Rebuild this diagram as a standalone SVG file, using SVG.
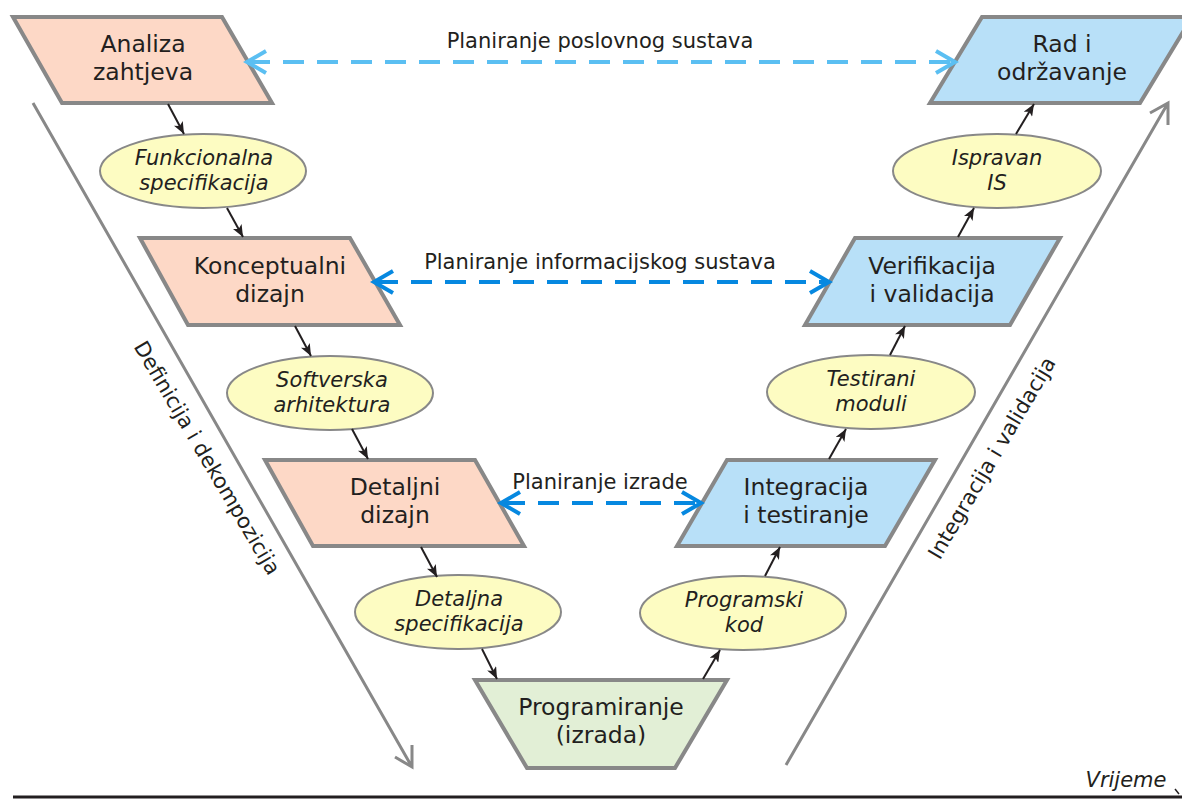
<svg xmlns="http://www.w3.org/2000/svg" width="1182" height="799" viewBox="0 0 1182 799">
<style>
  .node { stroke:#888888; stroke-width:4; stroke-linejoin:miter; }
  .req { fill:#fdd8c6; }
  .ver { fill:#b8e0f8; }
  .prog { fill:#e2efd6; }
  .ell { fill:#fdfcc2; stroke:#888888; stroke-width:2; }
  .nt { font-family:"DejaVu Sans", Verdana, sans-serif; font-size:23.5px; fill:#231f20; text-anchor:middle; }
  .et { font-family:"DejaVu Sans", Verdana, sans-serif; font-size:21px; font-style:italic; fill:#231f20; text-anchor:middle; }
  .lt { font-family:"DejaVu Sans", Verdana, sans-serif; font-size:21px; fill:#231f20; text-anchor:middle; }
  .flow { stroke:#231f20; stroke-width:2; fill:none; marker-end:url(#ah); }
  .dash1 { stroke:#5bbff2; stroke-width:4; fill:none; stroke-dasharray:21 13; }
  .dash2 { stroke:#0688e0; stroke-width:4; fill:none; stroke-dasharray:21 13; }
  .head1 { stroke:#5bbff2; stroke-width:4; fill:none; }
  .head2 { stroke:#0688e0; stroke-width:4; fill:none; }
  .big { stroke:#888888; stroke-width:3; fill:none; }
</style>
<defs>
  <marker id="ah" viewBox="0 0 12 10" refX="12" refY="5" markerWidth="12" markerHeight="10" markerUnits="userSpaceOnUse" orient="auto">
    <path d="M0,0 L12,5 L0,10 L3,5 Z" fill="#231f20"/>
  </marker>
</defs>
<rect x="0" y="0" width="1182" height="799" fill="#ffffff"/>

<!-- big gray phase arrows -->
<g id="phase-arrows">
  <path class="big" d="M33,103 L412,767 M412,745 L412,767 L395,757"/>
  <path class="big" d="M786,765 L1168,103 M1168,125 L1168,103 L1150,113"/>
  <text class="lt" transform="translate(207,458) rotate(59.5)" x="0" y="7">Definicija i dekompozicija</text>
  <text class="lt" transform="translate(992,458) rotate(-59.5)" x="0" y="7">Integracija i validacija</text>
</g>

<!-- time axis -->
<g id="time-axis">
  <line x1="13" y1="797" x2="1182" y2="797" stroke="#231f20" stroke-width="3"/>
  <path d="M1175,789 L1179,794" stroke="#231f20" stroke-width="1.5" fill="none"/>
  <text class="et" x="1126" y="787">Vrijeme</text>
</g>

<g id="n-analiza">
  <polygon class="node req" points="13,17 222,17 272,103 62,103"/>
  <text class="nt" x="143" y="52">Analiza</text>
  <text class="nt" x="143" y="80">zahtjeva</text>
</g>
<g id="n-konceptualni">
  <polygon class="node req" points="140,238 350,238 400,325 188,325"/>
  <text class="nt" x="270" y="274">Konceptualni</text>
  <text class="nt" x="270" y="302">dizajn</text>
</g>
<g id="n-detaljni">
  <polygon class="node req" points="265,460 475,460 524,546 313,546"/>
  <text class="nt" x="395" y="495">Detaljni</text>
  <text class="nt" x="395" y="523">dizajn</text>
</g>
<g id="n-programiranje">
  <polygon class="node prog" points="475,680 727,680 675,768 527,768"/>
  <text class="nt" x="601" y="715">Programiranje</text>
  <text class="nt" x="601" y="743">(izrada)</text>
</g>
<g id="n-integracija">
  <polygon class="node ver" points="727,460 935,460 885,546 677,546"/>
  <text class="nt" x="806" y="495">Integracija</text>
  <text class="nt" x="806" y="523">i testiranje</text>
</g>
<g id="n-verifikacija">
  <polygon class="node ver" points="855,238 1060,238 1010,325 805,325"/>
  <text class="nt" x="932" y="274">Verifikacija</text>
  <text class="nt" x="932" y="302">i validacija</text>
</g>
<g id="n-rad">
  <polygon class="node ver" points="982,17 1192,17 1140,103 930,103"/>
  <text class="nt" x="1062" y="52">Rad i</text>
  <text class="nt" x="1062" y="80">održavanje</text>
</g>

<g id="e-funkcionalna">
  <ellipse class="ell" cx="203" cy="171" rx="103" ry="37"/>
  <text class="et" x="204" y="165">Funkcionalna</text>
  <text class="et" x="204" y="190">specifikacija</text>
</g>
<g id="e-softverska">
  <ellipse class="ell" cx="330" cy="393" rx="103" ry="37"/>
  <text class="et" x="332" y="387">Softverska</text>
  <text class="et" x="332" y="412">arhitektura</text>
</g>
<g id="e-detaljna">
  <ellipse class="ell" cx="458" cy="612" rx="103" ry="37"/>
  <text class="et" x="459" y="606">Detaljna</text>
  <text class="et" x="459" y="631">specifikacija</text>
</g>
<g id="e-programski">
  <ellipse class="ell" cx="743" cy="613" rx="103" ry="37"/>
  <text class="et" x="744" y="607">Programski</text>
  <text class="et" x="744" y="632">kod</text>
</g>
<g id="e-testirani">
  <ellipse class="ell" cx="871" cy="392" rx="104" ry="37"/>
  <text class="et" x="871" y="386">Testirani</text>
  <text class="et" x="871" y="411">moduli</text>
</g>
<g id="e-ispravan">
  <ellipse class="ell" cx="997" cy="171" rx="104" ry="37"/>
  <text class="et" x="997" y="165">Ispravan</text>
  <text class="et" x="997" y="190">IS</text>
</g>

<g id="connectors">
  <line class="flow" x1="168" y1="104" x2="184" y2="134"/>
  <line class="flow" x1="227" y1="208" x2="243" y2="237"/>
  <line class="flow" x1="295" y1="326" x2="311" y2="356"/>
  <line class="flow" x1="352" y1="429" x2="368" y2="459"/>
  <line class="flow" x1="421" y1="547" x2="437" y2="577"/>
  <line class="flow" x1="482" y1="649" x2="497" y2="679"/>
  <line class="flow" x1="703" y1="679" x2="720" y2="650"/>
  <line class="flow" x1="765" y1="576" x2="780" y2="547"/>
  <line class="flow" x1="829" y1="459" x2="846" y2="429"/>
  <line class="flow" x1="890" y1="355" x2="905" y2="326"/>
  <line class="flow" x1="958" y1="237" x2="974" y2="208"/>
  <line class="flow" x1="1016" y1="134" x2="1034" y2="104"/>

  <line class="dash1" x1="249" y1="62" x2="953" y2="62"/>
  <path class="head1" d="M266,51 L247,62 L266,73"/>
  <path class="head1" d="M936,51 L955,62 L936,73"/>
  <text class="lt" x="600" y="48">Planiranje poslovnog sustava</text>

  <line class="dash2" x1="377" y1="282" x2="826" y2="282"/>
  <path class="head2" d="M393,271 L374,282 L393,293"/>
  <path class="head2" d="M810,271 L829,282 L810,293"/>
  <text class="lt" x="600" y="269">Planiranje informacijskog sustava</text>

  <line class="dash2" x1="504" y1="503" x2="698" y2="503"/>
  <path class="head2" d="M520,492 L501,503 L520,514"/>
  <path class="head2" d="M682,492 L701,503 L682,514"/>
  <text class="lt" x="600" y="489">Planiranje izrade</text>
</g>
</svg>
